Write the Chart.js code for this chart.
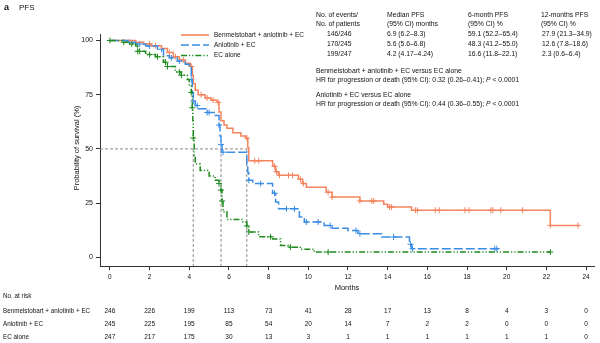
<!DOCTYPE html>
<html>
<head>
<meta charset="utf-8">
<script src="https://cdn.jsdelivr.net/npm/chart.js@4.4.1/dist/chart.umd.min.js"></script>
<style>
  body { margin: 0; background: #fff; }
  #wrap { position: relative; width: 600px; height: 343px; font-family: 'Liberation Sans', Arial, sans-serif; color: #111; }
  #wrap canvas { position: absolute; left: 0; top: 0; }
  .t { position: absolute; font-size: 6.5px; line-height: 1; white-space: nowrap; }
  .tb { font-size: 6.8px; }
  .rk { font-size: 6.3px; }
</style>
</head>
<body>
<div id="wrap">
  <canvas id="pfsChart" width="600" height="343"></canvas>

  <div class="t" style="left:4px;top:3px;font-size:9px;font-weight:bold">a</div>
  <div class="t" style="left:19px;top:4px;font-size:8px">PFS</div>

  <!-- tabell oppe til høyre -->
  <div class="t tb" style="left:316px;top:11.5px">No. of events/</div>
  <div class="t tb" style="left:316px;top:21px">No. of patients</div>
  <div class="t tb" style="left:387px;top:11.5px">Median PFS</div>
  <div class="t tb" style="left:387px;top:21px">(95% CI) months</div>
  <div class="t tb" style="left:468px;top:11.5px">6-month PFS</div>
  <div class="t tb" style="left:468px;top:21px">(95% CI) %</div>
  <div class="t tb" style="left:541px;top:11.5px">12-months PFS</div>
  <div class="t tb" style="left:541px;top:21px">(95% CI) %</div>

  <div class="t tb" style="left:327px;top:31px">146/246</div>
  <div class="t tb" style="left:327px;top:40.5px">170/245</div>
  <div class="t tb" style="left:327px;top:50.5px">199/247</div>
  <div class="t tb" style="left:387px;top:31px">6.9 (6.2–8.3)</div>
  <div class="t tb" style="left:387px;top:40.5px">5.6 (5.6–6.8)</div>
  <div class="t tb" style="left:387px;top:50.5px">4.2 (4.17–4.24)</div>
  <div class="t tb" style="left:468px;top:31px">59.1 (52.2–65.4)</div>
  <div class="t tb" style="left:468px;top:40.5px">48.3 (41.2–55.0)</div>
  <div class="t tb" style="left:468px;top:50.5px">16.6 (11.8–22.1)</div>
  <div class="t tb" style="left:542px;top:31px">27.9 (21.3–34.9)</div>
  <div class="t tb" style="left:542px;top:40.5px">12.6 (7.8–18.6)</div>
  <div class="t tb" style="left:542px;top:50.5px">2.3 (0.6–6.4)</div>

  <div class="t tb" style="left:316px;top:68px">Benmelstobart + anlotinib + EC versus EC alone</div>
  <div class="t tb" style="left:316px;top:77px">HR for progression or death (95% CI): 0.32 (0.26–0.41); <i>P</i> &lt; 0.0001</div>
  <div class="t tb" style="left:316px;top:92px">Anlotinib + EC versus EC alone</div>
  <div class="t tb" style="left:316px;top:100.5px">HR for progression or death (95% CI): 0.44 (0.36–0.55); <i>P</i> &lt; 0.0001</div>

  <!-- forklaring -->
  <div class="t" style="left:214px;top:31.5px">Benmelstobart + anlotinib + EC</div>
  <div class="t" style="left:214px;top:41.5px">Anlotinib + EC</div>
  <div class="t" style="left:214px;top:52px">EC alone</div>

  <!-- antall i risiko -->
  <div class="t rk" style="left:3px;top:292.5px">No. at risk</div>
  <div class="t rk" style="left:3px;top:307.5px">Benmelstobart + anlotinib + EC</div>
  <div class="t rk" style="left:3px;top:320.5px">Anlotinib + EC</div>
  <div class="t rk" style="left:3px;top:333.5px">EC alone</div>
</div>

<script>
/*
----------------------
Data lest av figuren (Kaplan–Meier, PFS)
----------------------
*/
var benmel_times = [0, 1.3, 1.7, 2.1, 2.6, 2.9, 3.2, 3.5, 3.8, 4.05, 4.15, 4.2, 4.3, 4.45, 4.8, 5.1, 5.4, 5.5, 5.6, 5.75, 5.9, 6.2, 6.6, 6.85, 6.95, 7.0, 8.2, 8.35, 8.5, 9.5, 9.7, 9.9, 10.9, 11.2, 12.6, 13.8, 14.0, 15.2, 22.2, 23.6];
var benmel_surv  = [100, 99.2, 98.4, 97.6, 96.3, 94.5, 92.5, 91, 89.5, 88, 84, 80, 77, 75, 73.5, 72.5, 71.5, 67, 63, 61, 59.5, 57.5, 56, 55, 50.5, 44.5, 42, 39.5, 37.8, 36, 34, 32.3, 30, 27.8, 26, 24.5, 23.2, 21.7, 14.7, 14.7];

var anlo_times = [0, 0.9, 1.3, 1.8, 2.4, 2.7, 3.0, 3.4, 3.8, 4.0, 4.1, 4.15, 4.2, 4.3, 4.45, 4.9, 5.3, 5.5, 5.55, 5.6, 5.65, 6.9, 6.95, 7.0, 7.2, 8.2, 8.35, 8.5, 9.55, 9.8, 10.8, 11.2, 12.0, 12.5, 13.7, 15.1, 15.2, 19.6];
var anlo_surv  = [100, 99.2, 98.4, 97.5, 96, 93, 92, 90.5, 89, 87.5, 82, 76, 72, 70, 68.5, 66.8, 65.4, 61, 56, 52, 48.5, 43, 39, 35.5, 34, 29.5, 25.5, 22.4, 18.6, 16.3, 14.7, 13.4, 12.4, 10.9, 9.4, 6, 4, 4];

var ec_times = [0, 0.6, 1.0, 1.3, 1.4, 1.8, 2.3, 2.7, 2.9, 3.3, 3.6, 3.9, 4.0, 4.1, 4.15, 4.18, 4.2, 4.25, 4.3, 4.55, 5.0, 5.3, 5.5, 5.6, 5.65, 5.7, 5.9, 6.7, 6.9, 7.0, 7.5, 8.2, 8.6, 9.0, 9.6, 10.3, 22.2];
var ec_surv  = [100, 99.2, 98.4, 97.5, 95, 93.5, 92.5, 90, 88, 85.5, 84, 82, 79, 76, 69, 63, 55, 47, 43, 40, 37.5, 35.5, 34, 31, 26, 21, 17.5, 16.3, 14.5, 11.7, 9.5, 8.5, 5.5, 4.7, 3.7, 2.4, 2.4];

// sensurerte tidspunkter (markeres med +)
var benmel_censor = [2.0, 2.3, 3.0, 3.3, 3.7, 4.1, 4.6, 4.9, 5.2, 5.45, 6.9, 7.3, 7.5, 8.3, 8.4, 8.55, 9.0, 9.2, 9.6, 9.75, 11.0, 11.2, 12.6, 13.2, 13.3, 14.1, 14.2, 15.4, 15.5, 16.4, 16.6, 17.9, 18.1, 19.2, 19.3, 19.7, 20.8, 22.2, 23.6];
var anlo_censor = [1.0, 1.5, 2.0, 2.6, 3.1, 3.5, 4.1, 4.2, 4.4, 4.9, 5.0, 5.5, 5.6, 5.7, 7.0, 7.6, 8.3, 8.9, 9.3, 9.9, 10.5, 11.1, 12.4, 12.6, 14.3, 15.15, 15.25, 19.4, 19.5];
var ec_censor = [0, 0.7, 1.1, 1.4, 1.5, 2.0, 2.4, 2.8, 2.9, 3.5, 3.6, 4.1, 4.15, 4.2, 5.5, 5.6, 5.65, 6.9, 7.0, 8.1, 9.1, 11.0, 22.2];

var median_months = [6.9, 5.6, 4.2];

var x_ticks = [0, 2, 4, 6, 8, 10, 12, 14, 16, 18, 20, 22, 24];
var y_ticks = [0, 25, 50, 75, 100];

var risk_benmel = [246, 226, 199, 113, 73, 41, 28, 17, 13, 8, 4, 3, 0];
var risk_anlo   = [245, 225, 195, 85, 54, 20, 14, 7, 2, 2, 0, 0, 0];
var risk_ec     = [247, 217, 175, 30, 13, 3, 1, 1, 1, 1, 1, 1, 0];

var ORANGE = "#F3845E";
var BLUE = "#3A8DE4";
var GREEN = "#1C8A1C";
var FONT = "'Liberation Sans', Arial, sans-serif";

/*
----------------------
Hjelpere
----------------------
*/
function to_points(times, surv) {
  return times.map(function (t, i) { return { x: t, y: surv[i] }; });
}

function surv_at(times, surv, t) {
  var value = surv[0];
  for (var i = 0; i < times.length; i++) {
    if (times[i] <= t) { value = surv[i]; }
  }
  return value;
}

function censor_points(censor, times, surv) {
  return censor.map(function (t) { return { x: t, y: surv_at(times, surv, t) }; });
}

function curve_dataset(times, surv, color, dash) {
  return {
    type: "line",
    data: to_points(times, surv),
    stepped: true,
    borderColor: color,
    borderWidth: 1.5,
    borderDash: dash,
    pointRadius: 0,
    fill: false
  };
}

function censor_dataset(censor, times, surv, color) {
  return {
    type: "scatter",
    data: censor_points(censor, times, surv),
    pointStyle: "cross",
    pointRadius: 3,
    borderColor: color,
    borderWidth: 1,
    showLine: false
  };
}

/*
----------------------
Ekstra tegning: medianlinjer, forklaring, aksetitler, risikotabell
----------------------
*/
var pfs_extras = {
  id: "pfsExtras",
  beforeDatasetsDraw: function (chart) {
    var ctx = chart.ctx;
    var xs = chart.scales.x;
    var ys = chart.scales.y;
    var area = chart.chartArea;
    var y50 = ys.getPixelForValue(50);

    ctx.save();
    ctx.strokeStyle = "#8a8a8a";
    ctx.lineWidth = 1;
    ctx.setLineDash([3, 2]);
    ctx.beginPath();
    ctx.moveTo(area.left, y50);
    ctx.lineTo(xs.getPixelForValue(Math.max.apply(null, median_months)), y50);
    median_months.forEach(function (m) {
      var px = xs.getPixelForValue(m);
      ctx.moveTo(px, y50);
      ctx.lineTo(px, area.bottom);
    });
    ctx.stroke();
    ctx.restore();
  },
  afterDraw: function (chart) {
    var ctx = chart.ctx;
    var xs = chart.scales.x;
    var area = chart.chartArea;

    ctx.save();

    // forklaringslinjer
    var legend_rows = [
      { y: 35, color: ORANGE, dash: [] },
      { y: 45, color: BLUE, dash: [8, 3] },
      { y: 55.5, color: GREEN, dash: [6, 2, 1.2, 2, 1.2, 2] }
    ];
    legend_rows.forEach(function (row) {
      ctx.strokeStyle = row.color;
      ctx.lineWidth = 1.6;
      ctx.setLineDash(row.dash);
      ctx.beginPath();
      ctx.moveTo(181, row.y);
      ctx.lineTo(209, row.y);
      ctx.stroke();
    });
    ctx.setLineDash([]);

    // y-aksetittel
    ctx.fillStyle = "#111";
    ctx.font = "7.5px " + FONT;
    ctx.textAlign = "center";
    ctx.textBaseline = "middle";
    ctx.save();
    ctx.translate(77, 148);
    ctx.rotate(-Math.PI / 2);
    ctx.fillText("Probability of survival (%)", 0, 0);
    ctx.restore();

    // x-aksetittel
    ctx.font = "7.5px " + FONT;
    ctx.fillText("Months", (area.left + area.right) / 2, 287.5);

    // risikotabell
    ctx.font = "6.5px " + FONT;
    var rows = [
      { y: 311, values: risk_benmel },
      { y: 324, values: risk_anlo },
      { y: 337, values: risk_ec }
    ];
    rows.forEach(function (row) {
      row.values.forEach(function (v, i) {
        ctx.fillText(String(v), xs.getPixelForValue(x_ticks[i]), row.y);
      });
    });

    ctx.restore();
  }
};

/*
----------------------
Selve grafen
----------------------
*/
var canvas = document.getElementById("pfsChart");
var context = canvas.getContext("2d");

new Chart(context, {
  data: {
    datasets: [
      curve_dataset(ec_times, ec_surv, GREEN, [6, 2, 1.2, 2, 1.2, 2]),
      curve_dataset(anlo_times, anlo_surv, BLUE, [9, 3]),
      curve_dataset(benmel_times, benmel_surv, ORANGE, []),
      censor_dataset(ec_censor, ec_times, ec_surv, GREEN),
      censor_dataset(anlo_censor, anlo_times, anlo_surv, BLUE),
      censor_dataset(benmel_censor, benmel_times, benmel_surv, ORANGE)
    ]
  },
  options: {
    responsive: false,
    animation: false,
    events: [],
    layout: { padding: { top: 34, right: 6, bottom: 0, left: 0 } },
    plugins: {
      legend: { display: false },
      tooltip: { enabled: false }
    },
    scales: {
      x: {
        type: "linear",
        min: -0.5,
        max: 24.4,
        grid: { drawOnChartArea: false, tickLength: 4, color: "#333" },
        border: { color: "#333", width: 1 },
        ticks: { font: { size: 6.5, family: FONT }, color: "#111", padding: 3, maxRotation: 0, autoSkip: false },
        afterBuildTicks: function (scale) {
          scale.ticks = x_ticks.map(function (v) { return { value: v }; });
        },
        afterFit: function (scale) { scale.height = 77; }
      },
      y: {
        type: "linear",
        min: -4,
        max: 103,
        grid: { drawOnChartArea: false, tickLength: 4, color: "#333" },
        border: { color: "#333", width: 1 },
        ticks: { font: { size: 7, family: FONT }, color: "#111", padding: 3 },
        afterBuildTicks: function (scale) {
          scale.ticks = y_ticks.map(function (v) { return { value: v }; });
        },
        afterFit: function (scale) { scale.width = 100; }
      }
    }
  },
  plugins: [pfs_extras]
});
</script>
</body>
</html>
